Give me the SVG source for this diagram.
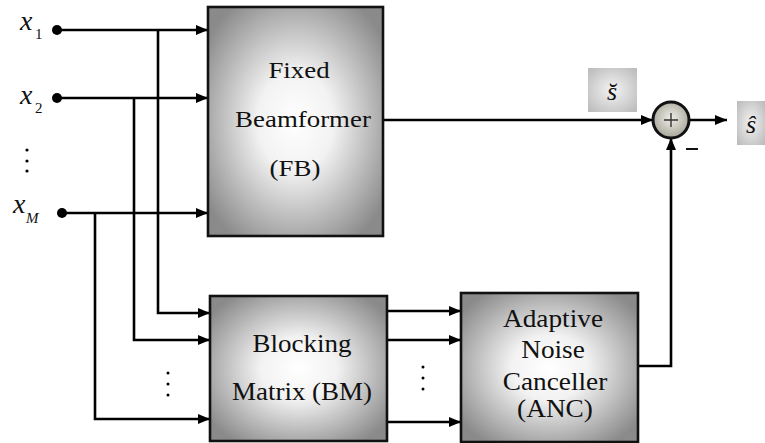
<svg xmlns="http://www.w3.org/2000/svg" width="765" height="443" viewBox="0 0 765 443">
<defs>
<radialGradient id="boxg" cx="50%" cy="50%" r="62%">
<stop offset="0" stop-color="#ffffff"/>
<stop offset="0.35" stop-color="#f2f2f2"/>
<stop offset="1" stop-color="#8a8a8a"/>
</radialGradient>
<radialGradient id="sumg" cx="50%" cy="45%" r="55%">
<stop offset="0" stop-color="#efeee8"/>
<stop offset="1" stop-color="#a9a79a"/>
</radialGradient>
<radialGradient id="lblg" cx="50%" cy="50%" r="65%">
<stop offset="0" stop-color="#f4f4f4"/>
<stop offset="1" stop-color="#bdbdbd"/>
</radialGradient>
<marker id="ah" markerUnits="userSpaceOnUse" markerWidth="12" markerHeight="10" refX="12" refY="5" orient="auto">
<path d="M0,0 L12,5 L0,10 z" fill="#000"/>
</marker>
</defs>
<style>
svg text{font-family:'Liberation Serif','Times New Roman',serif !important;fill:#111}
</style>

<g id="connectors" fill="none" stroke="#000" stroke-width="2.6">
<path d="M57,30 H208" marker-end="url(#ah)"/>
<path d="M57,98 H208" marker-end="url(#ah)"/>
<path d="M62,213 H208" marker-end="url(#ah)"/>
<path d="M158,30 V313 H210" marker-end="url(#ah)"/>
<path d="M134,98 V340 H210" marker-end="url(#ah)"/>
<path d="M95,213 V419 H210" marker-end="url(#ah)"/>
<path d="M387,311 H461" marker-end="url(#ah)"/>
<path d="M387,340 H461" marker-end="url(#ah)"/>
<path d="M387,422 H461" marker-end="url(#ah)"/>
<path d="M383,120 H653" marker-end="url(#ah)"/>
<path d="M638,366 H671 V138" marker-end="url(#ah)"/>
<path d="M689,120 H727" marker-end="url(#ah)"/>
</g>

<g id="inputs">
<circle cx="57" cy="30" r="5" fill="#000"/>
<circle cx="57" cy="98" r="5" fill="#000"/>
<circle cx="62" cy="213" r="5" fill="#000"/>
<text x="20" y="30" font-size="28" style="font-family:'Liberation Serif',serif !important;font-style:italic">x</text>
<text x="35" y="39" font-size="15" style="font-family:'Liberation Serif',serif !important">1</text>
<text x="20" y="104" font-size="28" style="font-family:'Liberation Serif',serif !important;font-style:italic">x</text>
<text x="35" y="113" font-size="15" style="font-family:'Liberation Serif',serif !important">2</text>
<text x="13" y="213" font-size="28" style="font-family:'Liberation Serif',serif !important;font-style:italic">x</text>
<text x="26" y="223" font-size="15" style="font-family:'Liberation Serif',serif !important;font-style:italic">M</text>
<circle cx="27" cy="150" r="1.6" fill="#000"/>
<circle cx="27" cy="161" r="1.6" fill="#000"/>
<circle cx="27" cy="171" r="1.6" fill="#000"/>
</g>

<g id="fb">
<rect x="208" y="7" width="175" height="229" fill="url(#boxg)" stroke="#111" stroke-width="2.6"/>
<text transform="translate(299 78) scale(1.12 1)" font-size="24" text-anchor="middle" style="font-family:'Liberation Serif',serif !important">Fixed</text>
<text transform="translate(303 127) scale(1.12 1)" font-size="24" text-anchor="middle" style="font-family:'Liberation Serif',serif !important">Beamformer</text>
<text transform="translate(295 176) scale(1.12 1)" font-size="24" text-anchor="middle" style="font-family:'Liberation Serif',serif !important">(FB)</text>
</g>

<g id="bm">
<rect x="210" y="296" width="177" height="145" fill="url(#boxg)" stroke="#111" stroke-width="2.6"/>
<text transform="translate(302 352) scale(1.08 1)" font-size="25" text-anchor="middle" style="font-family:'Liberation Serif',serif !important">Blocking</text>
<text transform="translate(302 400) scale(1.08 1)" font-size="25" text-anchor="middle" style="font-family:'Liberation Serif',serif !important">Matrix (BM)</text>
<circle cx="168" cy="373" r="1.5" fill="#000"/>
<circle cx="168" cy="384" r="1.5" fill="#000"/>
<circle cx="168" cy="395" r="1.5" fill="#000"/>
<circle cx="423" cy="367" r="1.5" fill="#000"/>
<circle cx="423" cy="378" r="1.5" fill="#000"/>
<circle cx="423" cy="389" r="1.5" fill="#000"/>
</g>

<g id="anc">
<rect x="461" y="293" width="177" height="149" fill="url(#boxg)" stroke="#111" stroke-width="2.6"/>
<text transform="translate(553 327) scale(1.05 1)" font-size="26" text-anchor="middle" style="font-family:'Liberation Serif',serif !important">Adaptive</text>
<text transform="translate(553 358) scale(1.05 1)" font-size="26" text-anchor="middle" style="font-family:'Liberation Serif',serif !important">Noise</text>
<text transform="translate(555 390) scale(1.05 1)" font-size="26" text-anchor="middle" style="font-family:'Liberation Serif',serif !important">Canceller</text>
<text transform="translate(555 417) scale(1.05 1)" font-size="26" text-anchor="middle" style="font-family:'Liberation Serif',serif !important">(ANC)</text>
</g>

<g id="sum">
<circle cx="671" cy="120" r="18" fill="url(#sumg)" stroke="#111" stroke-width="3"/>
<path d="M664,120 H678 M671,113 V127" stroke="#333" stroke-width="1.4"/>
<path d="M686,149 H698" stroke="#111" stroke-width="2"/>
</g>

<g id="s_breve">
<rect x="588" y="68" width="49" height="44" fill="url(#lblg)"/>
<text x="612" y="100" font-size="26" text-anchor="middle" style="font-family:'Liberation Serif',serif !important;font-style:italic">s&#x306;</text>
</g>

<g id="s_hat">
<rect x="737" y="101" width="28" height="44" fill="url(#lblg)"/>
<text x="751" y="133" font-size="26" text-anchor="middle" style="font-family:'Liberation Serif',serif !important;font-style:italic">&#x15D;</text>
</g>
</svg>
